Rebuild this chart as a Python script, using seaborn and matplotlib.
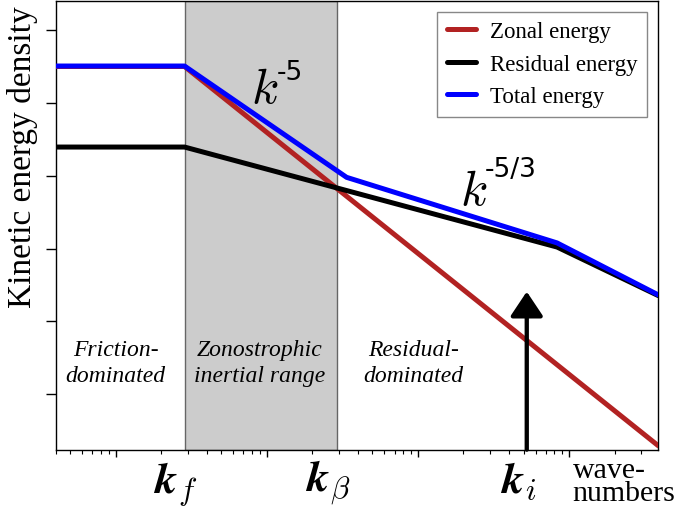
import matplotlib
matplotlib.use("Agg")
import matplotlib.pyplot as plt
import matplotlib.ticker as mticker
from matplotlib.transforms import blended_transform_factory
import numpy as np
import pandas as pd
import seaborn as sns

# ---------------- data ----------------
k_zonal = [0.4, 2.85, 3900]
E_zonal = [3.1e13, 3.1e13, 7.6e-3]

k_resid = [0.4, 2.85, 833, 3900]
E_resid = [1.5e10, 1.5e10, 1.15e6, 1.15e4]

k_total = [0.4, 2.85, 33.7, 833, 3900]
E_total = [3.24e13, 3.24e13, 8.5e8, 1.7e6, 1.23e4]

series_names = ["Zonal energy", "Residual energy", "Total energy"]
series_colors = ["#b22222", "#000000", "#0000ff"]

k_f, k_beta, k_i = 2.85, 28.9, 525
region_labels = ["Friction-\ndominated", "Zonostrophic\ninertial range", "Residual-\ndominated"]
region_k = [1.0, 9.0, 93.0]
k_tick_values = [k_f, k_beta, k_i]
k_tick_labels = [r"$\boldsymbol{k}_f$", r"$\boldsymbol{k}_\beta$", r"$\boldsymbol{k}_i$"]
slope_k = [7.9, 190]
slope_exps = ["-5", "-5/3"]
y_ticks = [1e0, 1e3, 1e6, 1e9, 1e12, 1e15]
x_limits = (0.4, 3900)
y_limits = (10 ** -2.28, 10 ** 16.2)
xlabel_text = "wave-\nnumbers"
ylabel_text = "Kinetic energy density"

# ---------------- build table ----------------
frames = []
for name, ks, es in [(series_names[0], k_zonal, E_zonal),
                     (series_names[1], k_resid, E_resid),
                     (series_names[2], k_total, E_total)]:
    frames.append(pd.DataFrame({"k": ks, "E": es, "series": name}))
df = pd.concat(frames, ignore_index=True)

# ---------------- style ----------------
sns.set_theme(style="ticks", rc={
    "axes.edgecolor": "black",
    "axes.linewidth": 1.0,
    "xtick.color": "black",
    "ytick.color": "black",
    "text.color": "black",
    "axes.labelcolor": "black",
})
plt.rcParams["font.family"] = ["Liberation Serif", "DejaVu Serif"]
plt.rcParams["mathtext.fontset"] = "cm"

fig = plt.figure(figsize=(6.81, 5.10), dpi=100)
ax = fig.add_axes([0.0818, 0.1163, 0.8849, 0.8804])
ax.set_xscale("log")
ax.set_yscale("log")

# shaded zonostrophic range
ax.axvspan(k_f, k_beta, facecolor="#cccccc", edgecolor="#666666", lw=1.0, zorder=0)

sns.lineplot(data=df, x="k", y="E", hue="series", hue_order=series_names,
             palette=dict(zip(series_names, series_colors)), lw=3.6,
             sort=False, estimator=None, ax=ax, zorder=3)

ax.set_xlim(*x_limits)
ax.set_ylim(*y_limits)
ax.set_yticks(y_ticks)
ax.yaxis.set_minor_locator(mticker.NullLocator())
ax.tick_params(axis="x", which="major", length=5, width=1, labelbottom=False)
ax.tick_params(axis="x", which="minor", length=3, width=0.8, labelbottom=False)
ax.tick_params(axis="y", which="major", length=7, width=1, labelleft=False)
for s in ax.spines.values():
    s.set_visible(True)
    s.set_color("black")
ax.set_xlabel("")
ax.set_ylabel(ylabel_text, fontsize=24)
ax.yaxis.set_label_coords(-0.029, 0.653)

# legend
leg = ax.legend(loc="upper right", fontsize=16.5, frameon=True, fancybox=False,
                edgecolor="#888888", framealpha=1, handlelength=1.3,
                handletextpad=0.6, borderaxespad=0.5)
for t in leg.get_texts():
    t.set_color("black")

trans = blended_transform_factory(ax.transData, ax.transAxes)

# region labels
for lab, xk in zip(region_labels, region_k):
    ax.text(xk, 0.195, lab, transform=trans, ha="center", va="center",
            fontsize=17, style="italic", linespacing=1.32, color="black")

# slope labels
slope_y = [0.774, 0.547]
exp_off = [(18.0, 16.6), (17.5, 20.4)]
for xk, yy, ex, off in zip(slope_k, slope_y, slope_exps, exp_off):
    ax.text(xk, yy, r"$k$", transform=trans, ha="left", va="baseline",
            fontsize=36, math_fontfamily="cm", color="black")
    ax.annotate(ex, xy=(xk, yy), xycoords=trans, xytext=off,
                textcoords="offset points", ha="left", va="baseline",
                fontsize=19, family="DejaVu Sans", color="black")

# k tick labels below axis
for xv, lab in zip(k_tick_values, k_tick_labels):
    ax.annotate(lab, xy=(xv, 0), xycoords=trans, xytext=(-6.5, -30),
                textcoords="offset points", ha="center", va="baseline",
                fontsize=32, math_fontfamily="cm", annotation_clip=False,
                color="black")

# wave-numbers label
ax.text(0.858, -0.016, xlabel_text, transform=ax.transAxes, ha="left",
        va="top", multialignment="left", fontsize=21.5, linespacing=0.85,
        color="black")

# arrow at k_i
ax.annotate("", xy=(k_i, 0.352), xycoords=trans, xytext=(k_i, 0.0),
            textcoords=trans,
            arrowprops=dict(arrowstyle="-|>,head_length=0.75,head_width=0.5",
                            mutation_scale=20, lw=3.1, color="black",
                            shrinkA=0, shrinkB=0), zorder=4)

fig.savefig("out.png", dpi=100)
